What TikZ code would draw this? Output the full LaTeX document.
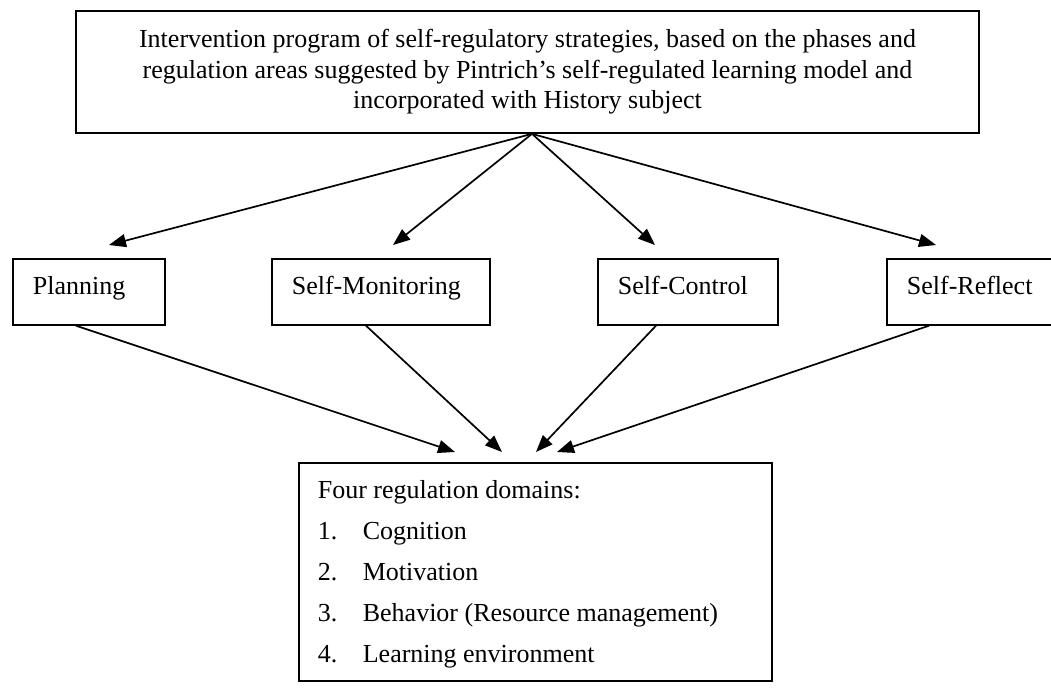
\documentclass[tikz,border=0pt]{standalone}
\usepackage{fontspec}
\setmainfont{Liberation Serif}
\usetikzlibrary{arrows.meta}
\begin{document}
\begin{tikzpicture}[x=1pt,y=-1pt,
  every node/.style={font=\fontsize{26}{30.5}\selectfont},
  box/.style={draw, line width=1.7pt},
  phasebox/.style={box, anchor=north west, inner xsep=20pt, inner ysep=0pt,
    text height=36pt, text depth=30pt, align=left},
  arr/.style={line width=1.7pt, -{Triangle[length=17pt,width=13pt]}}]
\useasboundingbox (0,0) rectangle (1051,690);
\node[box, minimum width=903pt, minimum height=122pt, inner sep=0pt, align=center] (top) at (527.5,72)
  {Intervention program of self-regulatory strategies, based on the phases and\\
   regulation areas suggested by Pintrich’s self-regulated learning model and\\
   incorporated with History subject};
\node[phasebox, text width=112pt] (plan) at (12,258) {Planning};
\node[phasebox, text width=178pt] (mon) at (271,258) {Self-Monitoring};
\node[phasebox, text width=140pt] (ctrl) at (597,258) {Self-Control};
\node[phasebox, text width=134pt] (refl) at (886,258) {Self-Reflect};
\node[box, anchor=north west, inner xsep=19pt, inner ysep=0pt, text height=36pt, text depth=182pt] (dom) at (298,462)
  {\vtop{\hsize=435pt \parindent=0pt \baselineskip=41pt
   Four regulation domains:\par
   \makebox[45pt][l]{1.}Cognition\par
   \makebox[45pt][l]{2.}Motivation\par
   \makebox[45pt][l]{3.}Behavior (Resource management)\par
   \makebox[45pt][l]{4.}Learning environment}};
\coordinate (apex) at ([xshift=4.5pt]top.south);
\draw[arr] (apex) -- ([xshift=97pt,yshift=13pt]plan.north west);
\draw[arr] (apex) -- ([xshift=122pt,yshift=13pt]mon.north west);
\draw[arr] (apex) -- ([xshift=58pt,yshift=13pt]ctrl.north west);
\draw[arr] (apex) -- ([xshift=50pt,yshift=13pt]refl.north west);
\draw[arr] ([xshift=64pt]plan.south west) -- ([xshift=157pt,yshift=10pt]dom.north west);
\draw[arr] ([xshift=95pt]mon.south west) -- ([xshift=204pt,yshift=10pt]dom.north west);
\draw[arr] ([xshift=59pt]ctrl.south west) -- ([xshift=238pt,yshift=10pt]dom.north west);
\draw[arr] ([xshift=43pt]refl.south west) -- ([xshift=259pt,yshift=10pt]dom.north west);
\end{tikzpicture}
\end{document}
